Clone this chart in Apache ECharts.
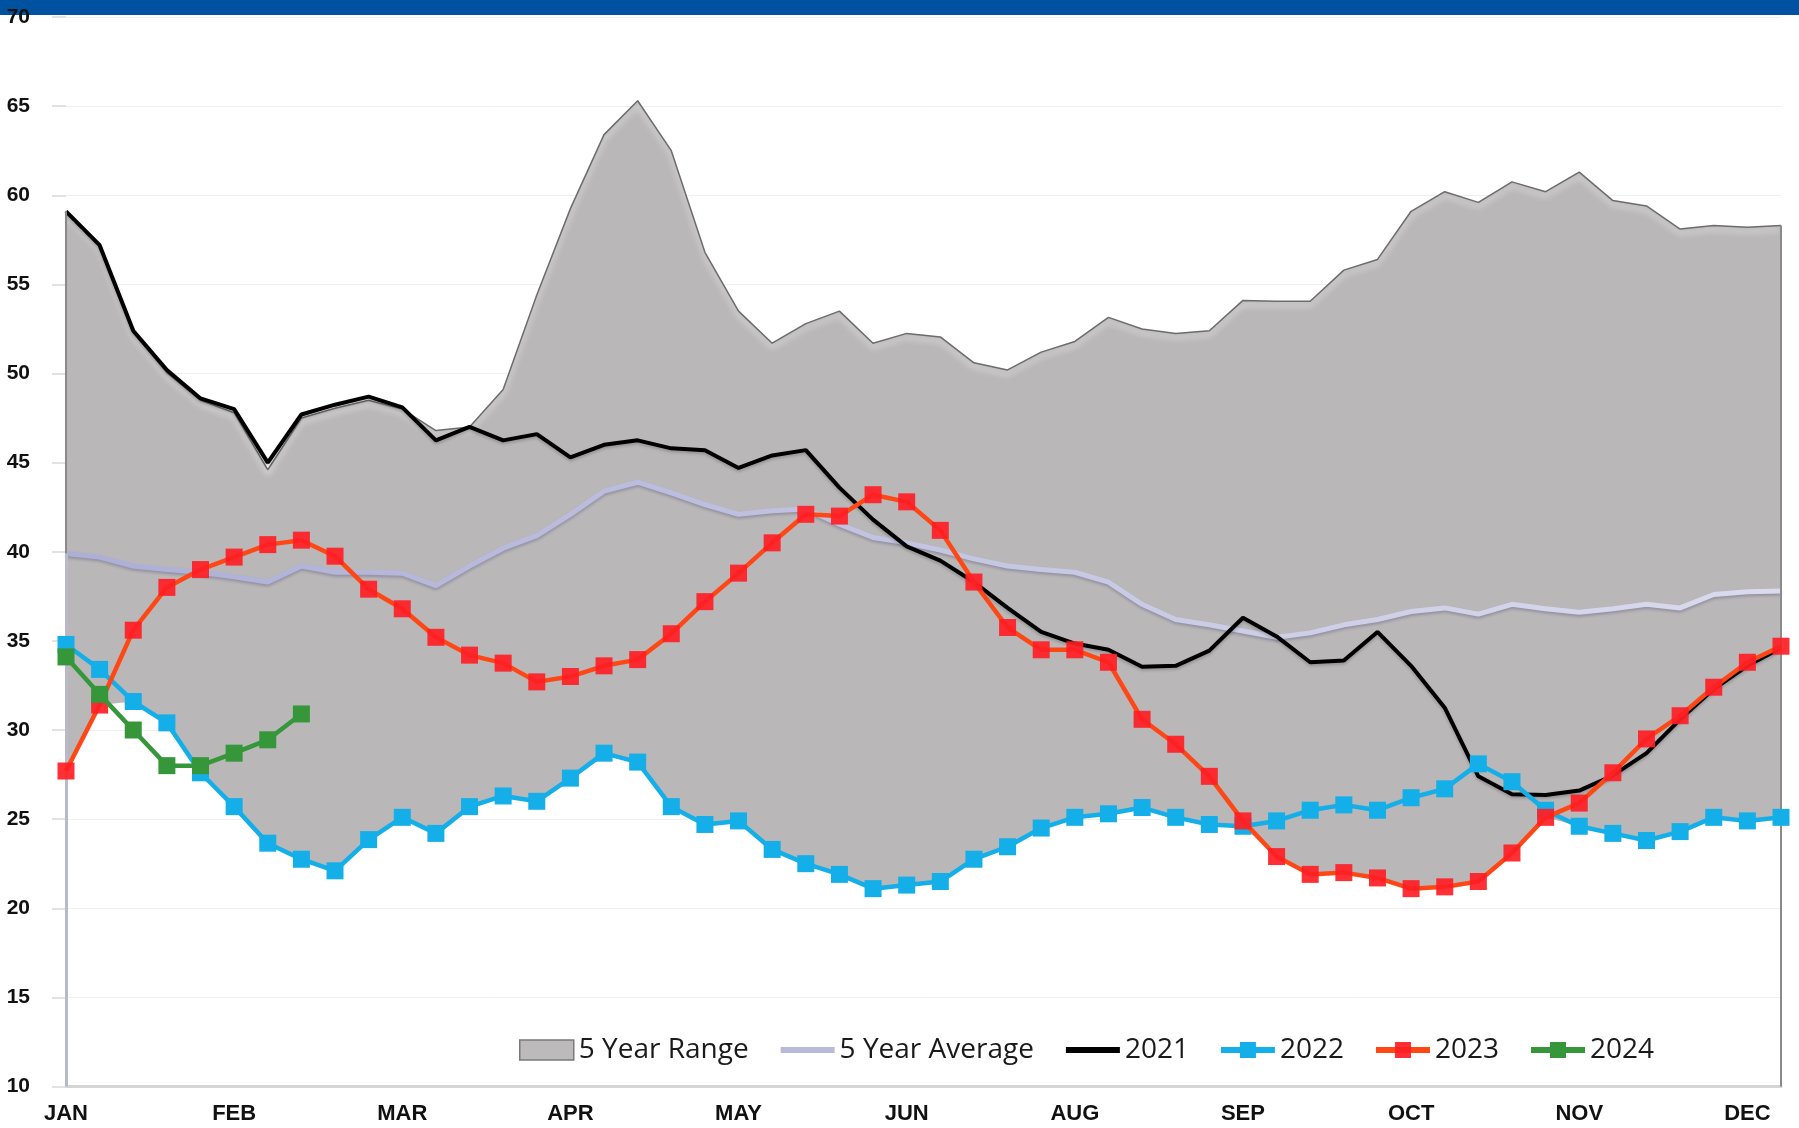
<!DOCTYPE html>
<html>
<head>
<meta charset="utf-8">
<script src="https://cdn.jsdelivr.net/npm/echarts@6/dist/echarts.min.js"></script>
<style>
html,body{margin:0;padding:0;background:#fff;}
#chart{width:1799px;height:1128px;}
</style>
</head>
<body>
<div id="chart"></div>
<script>
// ---- data ----
const weeks = ['W1','W2','W3','W4','W5','W6','W7','W8','W9','W10','W11','W12','W13','W14','W15','W16','W17','W18','W19','W20','W21','W22','W23','W24','W25','W26','W27','W28','W29','W30','W31','W32','W33','W34','W35','W36','W37','W38','W39','W40','W41','W42','W43','W44','W45','W46','W47','W48','W49','W50','W51','W52'];
const monthLabels = ['JAN','FEB','MAR','APR','MAY','JUN','AUG','SEP','OCT','NOV','DEC'];
const yTicks = [10,15,20,25,30,35,40,45,50,55,60,65,70];

const rangeMax = [59.1,57.2,52.3,50.05,48.5,47.8,44.6,47.5,48.05,48.5,48.0,46.8,47.0,49.1,54.4,59.25,63.4,65.3,62.5,56.8,53.5,51.7,52.8,53.5,51.7,52.25,52.05,50.6,50.2,51.2,51.8,53.15,52.5,52.25,52.4,54.1,54.05,54.05,55.8,56.4,59.1,60.2,59.6,60.75,60.2,61.3,59.7,59.4,58.1,58.3,58.2,58.3];
const rangeMin = [27.7,31.4,31.6,30.4,27.6,25.7,23.65,22.75,22.1,23.85,25.1,24.2,25.7,26.3,26.0,27.3,28.7,28.2,25.7,24.7,24.9,23.3,22.5,21.9,21.1,21.3,21.5,22.75,23.45,24.5,25.1,25.3,25.65,25.1,24.7,24.6,22.9,21.9,22.0,21.7,21.1,21.2,21.5,23.1,25.1,24.6,24.2,23.8,24.3,25.1,24.9,25.1];
const avg5 = [39.9,39.7,39.2,39.0,38.85,38.6,38.3,39.2,38.85,38.85,38.8,38.1,39.2,40.2,40.9,42.1,43.4,43.9,43.3,42.65,42.1,42.3,42.4,41.55,40.8,40.5,40.1,39.6,39.2,39.0,38.85,38.3,37.05,36.2,35.9,35.55,35.2,35.45,35.9,36.2,36.65,36.85,36.5,37.05,36.8,36.6,36.8,37.05,36.85,37.6,37.75,37.8];
const y2021 = [59.1,57.2,52.4,50.2,48.6,48.0,45.0,47.7,48.25,48.7,48.1,46.25,47.0,46.25,46.6,45.3,46.0,46.25,45.8,45.7,44.7,45.4,45.7,43.6,41.8,40.3,39.5,38.3,36.85,35.5,34.85,34.5,33.55,33.6,34.45,36.3,35.25,33.8,33.9,35.5,33.6,31.25,27.4,26.4,26.35,26.6,27.45,28.7,30.6,32.3,33.6,34.6];
const y2022 = [34.8,33.4,31.6,30.4,27.6,25.7,23.65,22.75,22.1,23.85,25.1,24.2,25.7,26.3,26.0,27.3,28.7,28.2,25.7,24.7,24.9,23.3,22.5,21.9,21.1,21.3,21.5,22.75,23.45,24.5,25.1,25.3,25.65,25.1,24.7,24.6,24.9,25.5,25.8,25.5,26.2,26.7,28.1,27.1,25.5,24.6,24.2,23.8,24.3,25.1,24.9,25.1];
const y2023 = [27.7,31.4,35.6,38.0,39.0,39.7,40.4,40.65,39.75,37.9,36.8,35.2,34.2,33.75,32.7,33.0,33.6,33.95,35.4,37.2,38.8,40.5,42.1,42.0,43.2,42.8,41.2,38.3,35.75,34.5,34.5,33.8,30.6,29.2,27.4,24.9,22.9,21.9,22.0,21.7,21.1,21.2,21.5,23.1,25.1,25.9,27.6,29.5,30.8,32.4,33.8,34.7];
const y2024 = [34.1,32.0,30.0,28.0,28.0,28.7,29.45,30.9];

const rangeSpan = rangeMax.map((v, i) => +(v - rangeMin[i]).toFixed(2));

const chart = echarts.init(document.getElementById('chart'), null, {renderer: 'canvas'});

const legendFont = {fontFamily: '"Open Sans", "Noto Sans", sans-serif', fontSize: 28, color: '#1a1a1a'};

const option = {
  animation: false,
  backgroundColor: '#ffffff',
  graphic: [{
    type: 'rect', left: 0, top: 0, z: -10,
    shape: {width: 1799, height: 15},
    style: {fill: '#0052a0'}
  }],
  grid: {left: 66, right: 18, top: 17, bottom: 41.5, containLabel: false},
  legend: {
    left: 514, top: 1031,
    itemWidth: 54, itemHeight: 20, itemGap: 29,
    textStyle: legendFont,
    data: [
      {name: '5 Year Range', icon: 'rect', itemStyle: {color: '#bdbabb', borderColor: '#7a7a7a', borderWidth: 1.5}},
      {name: '5 Year Average', itemStyle: {opacity: 0}, lineStyle: {width: 6, color: '#b8b9dc'}},
      {name: '2021', itemStyle: {opacity: 0}, lineStyle: {width: 6}},
      {name: '2022', lineStyle: {width: 6}},
      {name: '2023', lineStyle: {width: 6}},
      {name: '2024', lineStyle: {width: 6}}
    ]
  },
  xAxis: {
    type: 'category',
    data: weeks,
    boundaryGap: false,
    axisLine: {show: true, lineStyle: {color: '#d4d4d4', width: 3}},
    axisTick: {show: false},
    splitLine: {show: false},
    axisLabel: {
      interval: 0,
      margin: 16,
      fontFamily: '"Liberation Sans", Arial, sans-serif',
      fontWeight: 'bold',
      fontSize: 22,
      color: '#111',
      formatter: function (v, i) { return i % 5 === 0 ? monthLabels[i / 5] : ''; }
    }
  },
  yAxis: [{
    type: 'value',
    min: yTicks[0], max: yTicks[yTicks.length - 1], interval: 5,
    axisLine: {show: false},
    axisTick: {show: true, length: 14, lineStyle: {color: '#e2e2e2', width: 2}},
    splitLine: {show: true, lineStyle: {color: '#efefef', width: 1}},
    axisLabel: {
      margin: 36,
      fontFamily: '"Liberation Sans", Arial, sans-serif',
      fontWeight: 'bold',
      fontSize: 21,
      color: '#111'
    }
  }],
  series: [
    {
      name: 'rangeBase', type: 'line', stack: 'range', data: rangeMin,
      symbol: 'none', lineStyle: {opacity: 0}, silent: true, z: 1,
      markLine: {
        silent: true, symbol: 'none', label: {show: false},
        lineStyle: {color: '#b9b9cc', width: 3, type: 'solid'},
        data: [
          [{coord: [0, avg5[0]]}, {coord: [0, yTicks[0]]}]
        ]
      }
    },
    {
      name: '5 Year Range', type: 'line', stack: 'range', data: rangeSpan,
      symbol: 'none', z: 2,
      areaStyle: {color: '#bab7b8', opacity: 1},
      lineStyle: {color: '#6c6c6c', width: 1.5, shadowColor: 'rgba(255,255,255,0.95)', shadowBlur: 6, shadowOffsetY: 4},
      itemStyle: {color: '#bdbabb'},
      markLine: {
        silent: true, symbol: 'none', label: {show: false},
        lineStyle: {color: '#8a8a8a', width: 2, type: 'solid'},
        data: [
          [{coord: [51, rangeMax[51]]}, {coord: [51, yTicks[0]]}],
          [{coord: [0, rangeMax[0]]}, {coord: [0, avg5[0]]}]
        ]
      }
    },
    {
      name: '5 Year Average', type: 'line', data: avg5, symbol: 'none', z: 3,
      lineStyle: {
        width: 5,
        color: new echarts.graphic.LinearGradient(0, 0, 1, 0, [
          {offset: 0, color: '#adaed6'}, {offset: 1, color: '#dadbee'}
        ]),
        shadowColor: 'rgba(70,70,110,0.35)', shadowBlur: 3, shadowOffsetY: 2
      },
      itemStyle: {color: '#b8b9dc'}
    },
    {
      name: '2021', type: 'line', data: y2021, symbol: 'none', z: 4,
      lineStyle: {width: 4, color: '#000000', shadowColor: 'rgba(0,0,0,0.2)', shadowBlur: 3, shadowOffsetY: 2},
      itemStyle: {color: '#000000'}
    },
    {
      name: '2022', type: 'line', data: y2022, symbol: 'rect', symbolSize: 17, z: 5,
      lineStyle: {width: 4.5, color: '#14aee9'},
      itemStyle: {color: '#14aee9'}
    },
    {
      name: '2023', type: 'line', data: y2023, symbol: 'rect', symbolSize: 17, z: 6,
      lineStyle: {width: 4.5, color: '#ff4716'},
      itemStyle: {color: '#ff1e24', opacity: 0.92}
    },
    {
      name: '2024', type: 'line', data: y2024, symbol: 'rect', symbolSize: 17, z: 7,
      lineStyle: {width: 4.5, color: '#35973a'},
      itemStyle: {color: '#35973a'}
    }
  ]
};
chart.setOption(option);
</script>
</body>
</html>
